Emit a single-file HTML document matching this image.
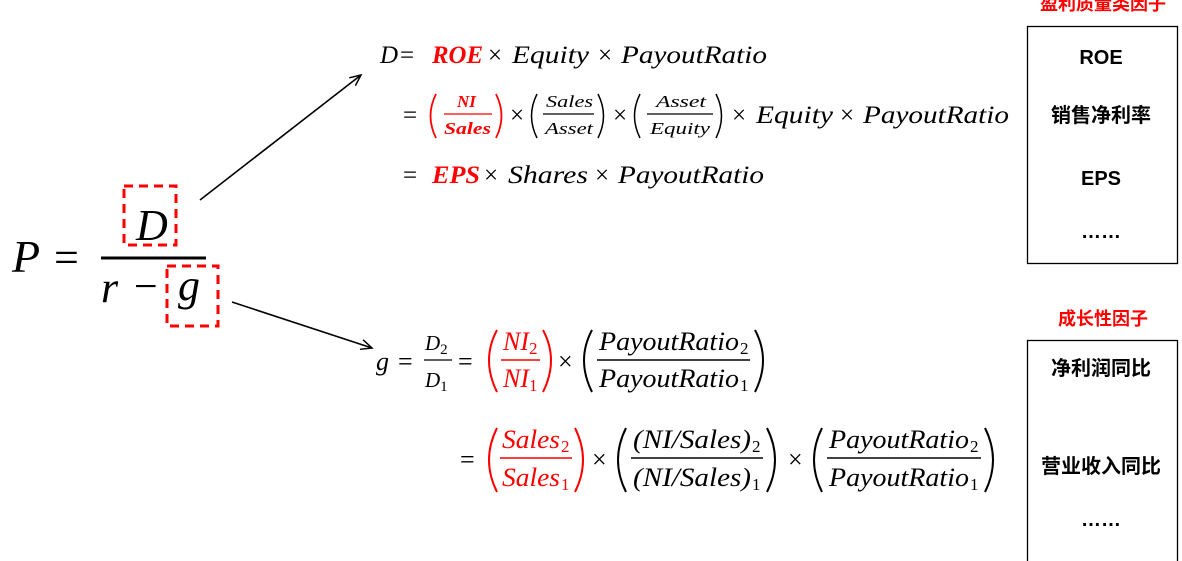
<!DOCTYPE html>
<html><head><meta charset="utf-8"><style>
html,body{margin:0;padding:0;background:#fff;width:1182px;height:561px;overflow:hidden}
svg{display:block}
.m{font-family:"Liberation Serif",serif;font-style:italic;}
.u{font-family:"Liberation Serif",serif;}
.r{fill:#f00}
.b{font-weight:bold}
.cj{font-family:"Liberation Sans","Noto Sans CJK SC",sans-serif;font-weight:bold;}
</style></head><body>
<svg width="1182" height="561" viewBox="0 0 1182 561" xmlns="http://www.w3.org/2000/svg">
<defs><marker id="ah" markerWidth="14" markerHeight="12" refX="12" refY="6" orient="auto" markerUnits="userSpaceOnUse"><path d="M1,1 L12,6 L1,11" fill="none" stroke="#000" stroke-width="1.5"/></marker></defs>

<!-- main formula -->
<text x="12" y="272" class="m" font-size="46">P</text>
<text x="54" y="272" class="u" font-size="44">=</text>
<line x1="101" y1="258" x2="206" y2="258" stroke="#000" stroke-width="3"/>
<text x="136" y="240" class="m" font-size="44">D</text>
<text x="101" y="302" class="m" font-size="44">r</text>
<text x="134" y="300" class="u" font-size="42">−</text>
<text x="178" y="300" class="m" font-size="44">g</text>
<rect x="124" y="186" width="52" height="59" fill="none" stroke="#f00" stroke-width="3" stroke-dasharray="9,6"/>
<rect x="167" y="266" width="51" height="60" fill="none" stroke="#f00" stroke-width="3" stroke-dasharray="9,6"/>
<line x1="200" y1="200" x2="361" y2="75" stroke="#000" stroke-width="1.6" marker-end="url(#ah)"/>
<line x1="232" y1="302" x2="372" y2="348" stroke="#000" stroke-width="1.6" marker-end="url(#ah)"/>

<!-- D equations -->
<g font-size="25">
<text x="380" y="63" class="m">D</text><text x="400" y="63" class="u">=</text>
<text x="432" y="63" class="m r b" textLength="51" lengthAdjust="spacingAndGlyphs">ROE</text>
<text x="488" y="63" class="u">×</text>
<text x="512" y="63" class="m" textLength="77" lengthAdjust="spacingAndGlyphs">Equity</text>
<text x="598" y="63" class="u">×</text>
<text x="621" y="63" class="m" textLength="146" lengthAdjust="spacingAndGlyphs">PayoutRatio</text>

<text x="403" y="123" class="u">=</text>
<path d="M436,94 Q425,116 436,138" fill="none" stroke="#f00" stroke-width="1.8"/>
<text x="457" y="107" class="m r b" font-size="17">NI</text>
<line x1="444" y1="114" x2="492" y2="114" stroke="#f00" stroke-width="1.3"/>
<text x="444" y="134" class="m r b" font-size="17" textLength="47" lengthAdjust="spacingAndGlyphs">Sales</text>
<path d="M496,94 Q507,116 496,138" fill="none" stroke="#f00" stroke-width="1.8"/>
<text x="510" y="123" class="u">×</text>
<path d="M537,94 Q526,116 537,138" fill="none" stroke="#000" stroke-width="1.5"/>
<text x="546" y="107" class="m" font-size="17" textLength="47" lengthAdjust="spacingAndGlyphs">Sales</text>
<line x1="543" y1="114" x2="594" y2="114" stroke="#000" stroke-width="1.2"/>
<text x="545" y="134" class="m" font-size="17" textLength="48" lengthAdjust="spacingAndGlyphs">Asset</text>
<path d="M598,94 Q609,116 598,138" fill="none" stroke="#000" stroke-width="1.5"/>
<text x="613" y="123" class="u">×</text>
<path d="M640,94 Q629,116 640,138" fill="none" stroke="#000" stroke-width="1.5"/>
<text x="656" y="107" class="m" font-size="17" textLength="50" lengthAdjust="spacingAndGlyphs">Asset</text>
<line x1="647" y1="114" x2="713" y2="114" stroke="#000" stroke-width="1.2"/>
<text x="650" y="134" class="m" font-size="17" textLength="60" lengthAdjust="spacingAndGlyphs">Equity</text>
<path d="M716,94 Q727,116 716,138" fill="none" stroke="#000" stroke-width="1.5"/>
<text x="732" y="123" class="u">×</text>
<text x="756" y="123" class="m" textLength="77" lengthAdjust="spacingAndGlyphs">Equity</text>
<text x="840" y="123" class="u">×</text>
<text x="863" y="123" class="m" textLength="146" lengthAdjust="spacingAndGlyphs">PayoutRatio</text>

<text x="403" y="183" class="u">=</text>
<text x="432" y="183" class="m r b" textLength="48" lengthAdjust="spacingAndGlyphs">EPS</text>
<text x="484" y="183" class="u">×</text>
<text x="508" y="183" class="m" textLength="80" lengthAdjust="spacingAndGlyphs">Shares</text>
<text x="595" y="183" class="u">×</text>
<text x="618" y="183" class="m" textLength="146" lengthAdjust="spacingAndGlyphs">PayoutRatio</text>
</g>

<!-- g equations -->
<g font-size="26">
<text x="376" y="370" class="m">g</text>
<text x="398" y="370" class="u">=</text>
<text x="425" y="350" class="m" font-size="21">D<tspan font-size="15" font-style="normal" dy="4">2</tspan></text>
<line x1="424" y1="360" x2="452" y2="360" stroke="#000" stroke-width="1.3"/>
<text x="425" y="387" class="m" font-size="21">D<tspan font-size="15" font-style="normal" dy="4">1</tspan></text>
<text x="458" y="370" class="u">=</text>
<path d="M497,330 Q481,360 497,392" fill="none" stroke="#f00" stroke-width="2"/>
<text x="503" y="350" class="m r">NI<tspan font-size="17" font-style="normal" dy="4">2</tspan></text>
<line x1="501" y1="360" x2="540" y2="360" stroke="#f00" stroke-width="1.4"/>
<text x="503" y="387" class="m r">NI<tspan font-size="17" font-style="normal" dy="4">1</tspan></text>
<path d="M543,330 Q559,360 543,392" fill="none" stroke="#f00" stroke-width="2"/>
<text x="558" y="370" class="u">×</text>
<path d="M592,330 Q576,360 592,392" fill="none" stroke="#000" stroke-width="2"/>
<text x="599" y="350" class="m" textLength="140" lengthAdjust="spacingAndGlyphs">PayoutRatio</text><text x="740" y="354" class="u" font-size="17">2</text>
<line x1="597" y1="360" x2="750" y2="360" stroke="#000" stroke-width="1.4"/>
<text x="599" y="387" class="m" textLength="140" lengthAdjust="spacingAndGlyphs">PayoutRatio</text><text x="740" y="391" class="u" font-size="17">1</text>
<path d="M755,330 Q771,360 755,392" fill="none" stroke="#000" stroke-width="2"/>

<text x="460" y="468" class="u">=</text>
<path d="M497,428 Q481,460 497,492" fill="none" stroke="#f00" stroke-width="2"/>
<text x="502" y="448" class="m r" textLength="58" lengthAdjust="spacingAndGlyphs">Sales</text><text x="561" y="452" class="u r" font-size="17">2</text>
<line x1="500" y1="458" x2="572" y2="458" stroke="#f00" stroke-width="1.4"/>
<text x="502" y="486" class="m r" textLength="58" lengthAdjust="spacingAndGlyphs">Sales</text><text x="561" y="490" class="u r" font-size="17">1</text>
<path d="M575,428 Q591,460 575,492" fill="none" stroke="#f00" stroke-width="2"/>
<text x="592" y="468" class="u">×</text>
<path d="M626,428 Q610,460 626,492" fill="none" stroke="#000" stroke-width="2"/>
<text x="633" y="448" class="m" textLength="118" lengthAdjust="spacingAndGlyphs">(NI/Sales)</text><text x="752" y="452" class="u" font-size="17">2</text>
<line x1="631" y1="458" x2="763" y2="458" stroke="#000" stroke-width="1.4"/>
<text x="633" y="486" class="m" textLength="118" lengthAdjust="spacingAndGlyphs">(NI/Sales)</text><text x="752" y="490" class="u" font-size="17">1</text>
<path d="M767,428 Q783,460 767,492" fill="none" stroke="#000" stroke-width="2"/>
<text x="788" y="468" class="u">×</text>
<path d="M822,428 Q806,460 822,492" fill="none" stroke="#000" stroke-width="2"/>
<text x="829" y="448" class="m" textLength="140" lengthAdjust="spacingAndGlyphs">PayoutRatio</text><text x="970" y="452" class="u" font-size="17">2</text>
<line x1="827" y1="458" x2="981" y2="458" stroke="#000" stroke-width="1.4"/>
<text x="829" y="486" class="m" textLength="140" lengthAdjust="spacingAndGlyphs">PayoutRatio</text><text x="970" y="490" class="u" font-size="17">1</text>
<path d="M985,428 Q1001,460 985,492" fill="none" stroke="#000" stroke-width="2"/>
</g>

<!-- right boxes -->
<text x="1103" y="10" class="cj" font-size="18" fill="#f00" text-anchor="middle">盈利质量类因子</text>
<rect x="1027.5" y="26.5" width="150" height="237" fill="none" stroke="#000" stroke-width="1.3"/>
<g class="cj" font-size="20" text-anchor="middle" fill="#000">
<text x="1101" y="64">ROE</text>
<text x="1101" y="122">销售净利率</text>
<text x="1101" y="185">EPS</text>
<text x="1101" y="238">……</text>
</g>
<text x="1103" y="325" class="cj" font-size="18" fill="#f00" text-anchor="middle">成长性因子</text>
<rect x="1027.5" y="340.5" width="150" height="230" fill="none" stroke="#000" stroke-width="1.3"/>
<g class="cj" font-size="20" text-anchor="middle" fill="#000">
<text x="1101" y="375">净利润同比</text>
<text x="1101" y="473">营业收入同比</text>
<text x="1101" y="526">……</text>
</g>
</svg>
</body></html>
